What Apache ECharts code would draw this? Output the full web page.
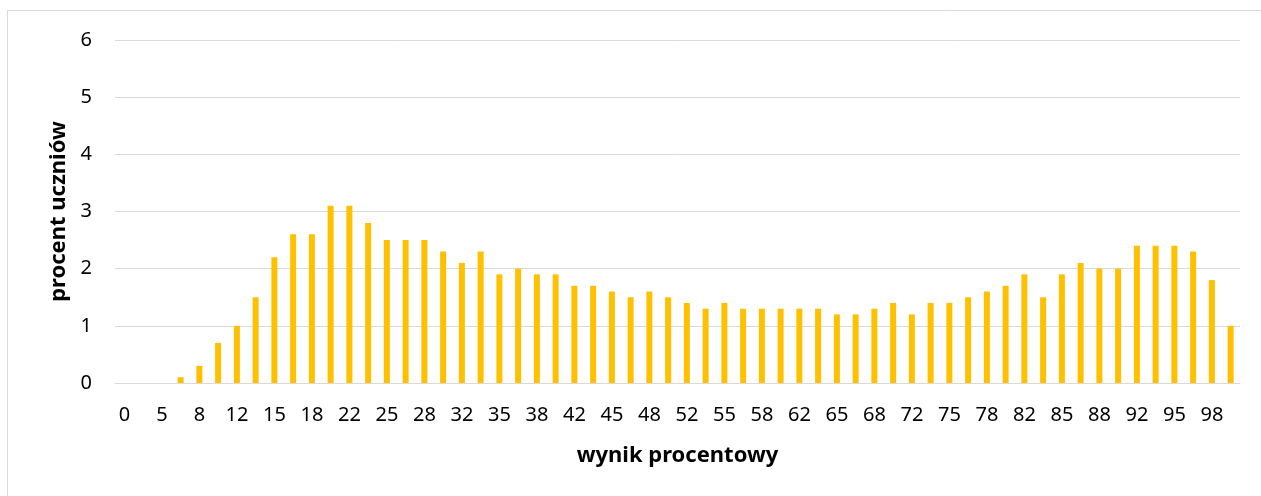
<!DOCTYPE html>
<html>
<head>
<meta charset="utf-8">
<script src="https://cdn.jsdelivr.net/npm/echarts@6/dist/echarts.min.js"></script>
<style>
  html, body { margin: 0; padding: 0; background: #fff; }
  #chart { width: 1261px; height: 496px; }
</style>
</head>
<body>
<div id="chart"></div>
<script>
// wynik procentowy (score %) - every other label is shown
var categories = ['0','3','5','7','8','10','12','13','15','17','18','20','22','23','25','27','28','30','32','33',
                  '35','37','38','40','42','43','45','47','48','50','52','53','55','57','58','60','62','63','65','67',
                  '68','70','72','73','75','77','78','80','82','83','85','87','88','90','92','93','95','97','98','100'];

// procent uczniów
var percents = [0, 0, 0, 0.1, 0.3, 0.7, 1.0, 1.5, 2.2, 2.6, 2.6, 3.1, 3.1, 2.8, 2.5, 2.5, 2.5, 2.3, 2.1, 2.3,
                1.9, 2.0, 1.9, 1.9, 1.7, 1.7, 1.6, 1.5, 1.6, 1.5, 1.4, 1.3, 1.4, 1.3, 1.3, 1.3, 1.3, 1.3, 1.2, 1.2,
                1.3, 1.4, 1.2, 1.4, 1.4, 1.5, 1.6, 1.7, 1.9, 1.5, 1.9, 2.1, 2.0, 2.0, 2.4, 2.4, 2.4, 2.3, 1.8, 1.0];

var yTicks = [0, 1, 2, 3, 4, 5, 6];

var myChart = echarts.init(document.getElementById('chart'));
var fontFam = '"Noto Sans", "Open Sans", sans-serif';

var option = {
    backgroundColor: '#FFFFFF',
    animation: false,
    textStyle: {
        fontFamily: fontFam
    },
    graphic: [
        {
            type: 'rect',
            shape: { x: 7.5, y: 10.5, width: 1300, height: 600 },
            style: { fill: 'none', stroke: '#d9d9d9', lineWidth: 1 },
            silent: true
        }
    ],
    grid: {
        left: 115,
        right: 21,
        top: 40,
        bottom: 113,
        containLabel: false
    },
    xAxis: {
        type: 'category',
        data: categories,
        name: 'wynik procentowy',
        nameLocation: 'middle',
        nameGap: 62,
        nameTextStyle: {
            color: '#000',
            fontSize: 22,
            fontWeight: 'bold',
            fontFamily: fontFam
        },
        axisLine: { lineStyle: { color: '#d9d9d9', width: 1 } },
        axisTick: { show: false },
        axisLabel: {
            interval: 1,
            color: '#000',
            fontSize: 20,
            margin: 22,
            fontFamily: fontFam
        }
    },
    yAxis: {
        type: 'value',
        min: yTicks[0],
        max: yTicks[yTicks.length - 1],
        interval: 1,
        name: 'procent uczniów',
        nameLocation: 'middle',
        nameGap: 43,
        nameTextStyle: {
            color: '#000',
            fontSize: 22,
            fontWeight: 'bold',
            fontFamily: fontFam
        },
        axisLine: { show: false },
        axisTick: { show: false },
        axisLabel: {
            color: '#000',
            fontSize: 20,
            margin: 23,
            fontFamily: fontFam
        },
        splitLine: { lineStyle: { color: '#d9d9d9', width: 1 } }
    },
    series: [
        {
            name: 'procent uczniów',
            type: 'bar',
            data: percents,
            barWidth: 6,
            itemStyle: { color: '#FFC000' }
        }
    ]
};

myChart.setOption(option);
</script>
</body>
</html>
